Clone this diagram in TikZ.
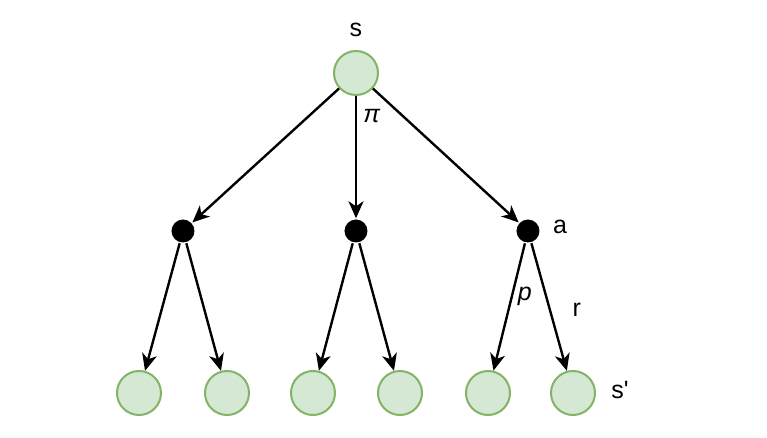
\documentclass[tikz,border=0pt]{standalone}
\usepackage{fontspec}
\setmainfont{Liberation Sans}
\usetikzlibrary{arrows.meta,positioning}

\definecolor{stategreen}{HTML}{D5E8D4}
\definecolor{stateedge}{HTML}{82B366}

\tikzset{
  statenode/.style={circle, draw=stateedge, fill=stategreen, line width=1pt, minimum size=22pt, inner sep=0pt},
  actnode/.style={circle, fill=black, minimum size=11.5pt, inner sep=0pt},
  lbl/.style={font=\fontsize{12.5}{15}\selectfont, inner sep=0pt}
}

\begin{document}
\begin{tikzpicture}[on grid, >={Stealth[length=8.5pt,width=7.5pt,inset=2.5pt]}, line width=1.2pt]
           \useasboundingbox (-178pt,36.5pt) rectangle (205.5pt,-182.5pt);
           \node[statenode] (s)   {};
           \node[actnode] (a_2) [below=79pt of s] {};
           \node[actnode] (a_1) [left=86.5pt of a_2] {};
           \node[actnode] (a_3) [right=86pt of a_2] {};
           \node[statenode] (l_1) [below left=81pt and 22pt of a_1] {};
           \node[statenode] (l_2) [below right=81pt and 22pt of a_1] {};
           \node[statenode] (l_3) [below left=81pt and 21.5pt of a_2] {};
           \node[statenode] (l_4) [below right=81pt and 22pt of a_2] {};
           \node[statenode] (l_5) [below left=81pt and 20pt of a_3] {};
           \node[statenode] (l_6) [below right=81pt and 22.5pt of a_3] {};
           \node[lbl] (s_lbl) [above=21.5pt of s] {s};
           \node[lbl] (a_lbl) [above right=2pt and 16pt of a_3] {a};
           \node[lbl] (s2_lbl) [above right=1.5pt and 23.5pt of l_6] {s\textquotesingle};
           \path[->]
            (s) edge (a_1)
            (s) edge node[lbl, pos=0.16, xshift=8pt] {\textit{π}} (a_2)
            (s) edge (a_3)
            (a_1) edge (l_1)
            (a_1) edge (l_2)
            (a_2) edge (l_3)
            (a_2) edge (l_4)
            (a_3) edge node[lbl, pos=0.42, xshift=6.5pt] {\textit{p}} (l_5)
            (a_3) edge node[lbl, pos=0.52, xshift=13.5pt] {r} (l_6);
        \end{tikzpicture}
\end{document}
